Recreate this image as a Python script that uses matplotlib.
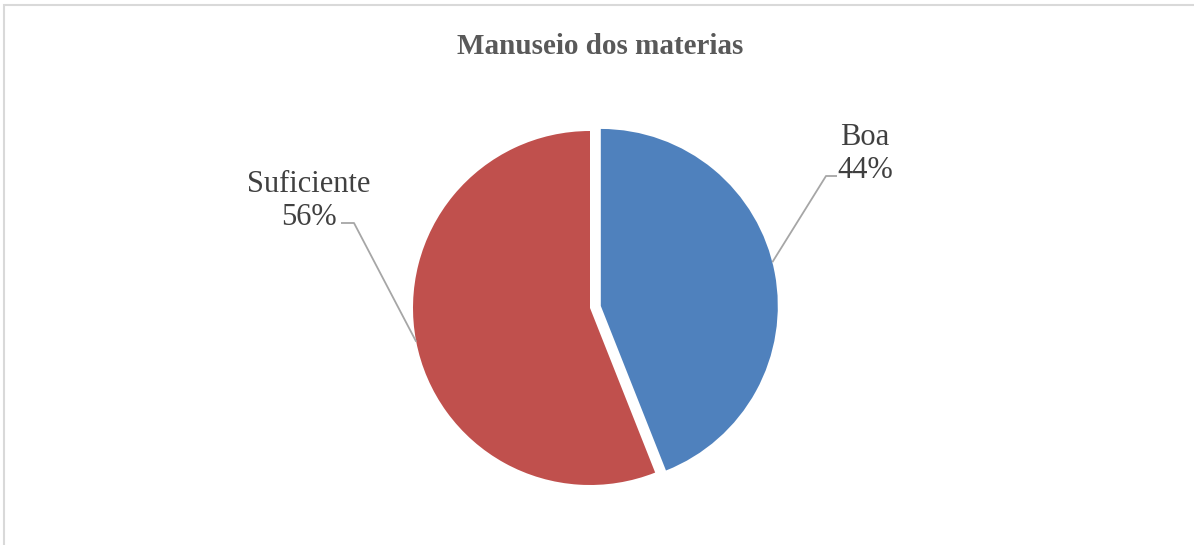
import matplotlib.pyplot as plt
import numpy as np
from matplotlib.patches import Rectangle

# data
categories = ['Boa', 'Suficiente']
shares = [44, 56]
colors = ['#4F81BD', '#C0504D']
title = 'Manuseio dos materias'

W, H = 1194, 545
fig = plt.figure(figsize=(W / 100, H / 100), dpi=100)
ax = fig.add_axes([0, 0, 1, 1])
ax.set_xlim(0, W)
ax.set_ylim(0, H)
ax.set_aspect('equal')
ax.axis('off')

# chart border (only top/left visible in the crop)
fig.patches.append(Rectangle((3.5 / W, -0.1), 1.2, (H - 5) / H + 0.1,
                             transform=fig.transFigure, fill=False,
                             edgecolor='#D9D9D9', linewidth=1.5))

center = (590, 237)
radius = 177
wedges, _ = ax.pie(shares, colors=colors, startangle=90, counterclock=False,
                   center=center, radius=radius, explode=[11, 0],
                   wedgeprops=dict(linewidth=0), frame=False)
ax.set_xlim(0, W)
ax.set_ylim(0, H)

ax.text(600, H - 46, title, ha='center', va='center', fontsize=21,
        fontweight='bold', family='Liberation Serif', color='#595959')

# label layout: (text pos, elbow, line end, edge angle)
layout = [
    dict(text=(865, 391), elbow=(826, H - 176), end=(837, H - 176), ang=14.3),
    dict(text=(309, 344), elbow=(354, H - 223), end=(341, H - 223), ang=191),
]
for w, cat, val, lay in zip(wedges, categories, shares, layout):
    cx, cy = w.center
    a = np.deg2rad(lay['ang'])
    px, py = cx + w.r * np.cos(a), cy + w.r * np.sin(a)
    ax.plot([px, lay['elbow'][0], lay['end'][0]],
            [py, lay['elbow'][1], lay['end'][1]],
            color='#A6A6A6', linewidth=1.3, solid_capstyle='butt')
    ax.text(*lay['text'], f'{cat}\n{val}%', ha='center', va='center',
            fontsize=22, family='Liberation Serif', color='#404040',
            linespacing=1.2)

fig.savefig('out.png', dpi=100, facecolor='white')
